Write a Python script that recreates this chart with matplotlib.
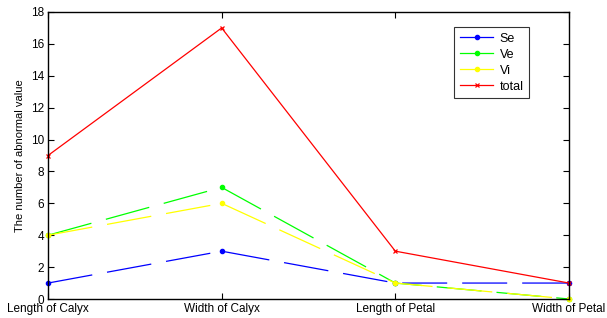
import matplotlib
matplotlib.use("Agg")
import matplotlib.pyplot as plt
from matplotlib.lines import Line2D

categories = ["Length of Calyx", "Width of Calyx", "Length of Petal", "Width of Petal"]
se = [1, 3, 1, 1]
ve = [4, 7, 1, 0]
vi = [4, 6, 1, 0]
total = [9, 17, 3, 1]
yticks = [0, 2, 4, 6, 8, 10, 12, 14, 16, 18]

plt.rcParams['font.family'] = ['Liberation Sans', 'DejaVu Sans']

fig = plt.figure(figsize=(6.07, 3.18), dpi=100)
ax = fig.add_axes([48/607, 19/318, 521/607, 287/318])
x = list(range(1, len(categories) + 1))

lw = 0.9
dash = (36, 12)
common = dict(lw=lw, clip_on=False, zorder=3)
ax.plot(x, se, color='blue', marker='o', ms=3, dashes=dash, label='Se', **common)
ax.plot(x, ve, color='#00ff00', marker='o', ms=3, dashes=dash, label='Ve', **common)
ax.plot(x, vi, color='#ffff00', marker='o', ms=3, dashes=dash, label='Vi', **common)
ax.plot(x, total, color='red', marker='x', ms=3.5, mew=0.9, label='total', **common)

ax.set_xlim(1, 4)
ax.set_ylim(0, 18)
ax.set_xticks(x)
ax.set_xticklabels(categories, fontsize=8.5)
ax.set_yticks(yticks)
ax.set_yticklabels([str(v) for v in yticks], fontsize=8.5)
ax.tick_params(direction='in', top=True, right=True, length=4, width=0.8, pad=3)
ax.set_ylabel("The number of abnormal value", fontsize=8, labelpad=4)
for s in ax.spines.values():
    s.set_linewidth(1.0)
    s.set_zorder(4)

handles = [
    Line2D([0], [0], color='blue', lw=lw, marker='o', ms=3),
    Line2D([0], [0], color='#00ff00', lw=lw, marker='o', ms=3),
    Line2D([0], [0], color='#ffff00', lw=lw, marker='o', ms=3),
    Line2D([0], [0], color='red', lw=lw, marker='x', ms=3.5, mew=0.9),
]
leg = ax.legend(handles, ['Se', 'Ve', 'Vi', 'total'], fontsize=9, loc='upper left',
                bbox_to_anchor=((454-48)/521, (299-27)/287), frameon=True, fancybox=False,
                edgecolor='black', handlelength=2.7, handletextpad=0.5, borderpad=0.45,
                labelspacing=0.32, borderaxespad=0)
leg.get_frame().set_linewidth(0.8)
leg.set_zorder(5)

fig.savefig("out.png", dpi=100)
